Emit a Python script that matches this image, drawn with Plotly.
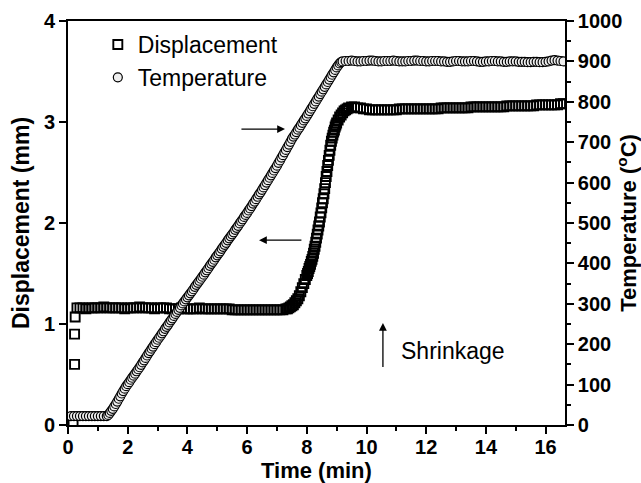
import plotly.graph_objects as go

# ---------------- Displacement (mm) ----------------
disp_t_start = [0.17, 0.22, 0.22, 0.24]
disp_start = [0.02, 0.60, 0.90, 1.07]

disp_t_base = [0.3, 0.4, 0.5, 0.6, 0.7, 0.8, 0.9, 1.0, 1.1, 1.2,
               1.3, 1.4, 1.5, 1.6, 1.7, 1.8, 1.9, 2.0, 2.1, 2.2,
               2.3, 2.4, 2.5, 2.6, 2.7, 2.8, 2.9, 3.0, 3.1, 3.2,
               3.3, 3.4, 3.5, 3.6, 3.7, 3.8, 3.9, 4.0, 4.1, 4.2,
               4.3, 4.4, 4.5, 4.6, 4.7, 4.8, 4.9, 5.0, 5.1, 5.2,
               5.3, 5.4, 5.5, 5.6, 5.7, 5.8, 5.9, 6.0, 6.1, 6.2,
               6.3, 6.4, 6.5, 6.6, 6.7, 6.8, 6.9, 7.0, 7.1, 7.2]
disp_base = [1.16, 1.16, 1.16, 1.15, 1.16, 1.16, 1.16, 1.16, 1.16, 1.17,
             1.16, 1.16, 1.16, 1.16, 1.16, 1.16, 1.15, 1.16, 1.16, 1.16,
             1.16, 1.17, 1.16, 1.16, 1.16, 1.16, 1.15, 1.16, 1.16, 1.16,
             1.16, 1.15, 1.15, 1.15, 1.15, 1.16, 1.15, 1.15, 1.15, 1.15,
             1.15, 1.16, 1.15, 1.15, 1.15, 1.15, 1.15, 1.15, 1.15, 1.15,
             1.15, 1.15, 1.14, 1.14, 1.14, 1.14, 1.14, 1.14, 1.14, 1.14,
             1.14, 1.14, 1.14, 1.14, 1.14, 1.14, 1.14, 1.14, 1.14, 1.14]

disp_t_rise = [7.3, 7.35, 7.4, 7.45, 7.5, 7.55, 7.6, 7.65, 7.7, 7.75,
               7.8, 7.85, 7.9, 7.95, 8.0,
               8.025, 8.05, 8.075, 8.1, 8.125, 8.15, 8.175, 8.2, 8.225, 8.25,
               8.275, 8.3, 8.325, 8.35, 8.375, 8.4, 8.425, 8.45, 8.475, 8.5,
               8.525, 8.55, 8.575, 8.6, 8.625, 8.65, 8.675, 8.7, 8.725, 8.75,
               8.775, 8.8, 8.825, 8.85, 8.875, 8.9, 8.925, 8.95, 8.975, 9.0,
               9.05, 9.1, 9.15, 9.2, 9.25, 9.3, 9.35, 9.4,
               9.5, 9.6, 9.7, 9.8, 9.9, 10.0]
disp_rise = [1.15, 1.15, 1.16, 1.17, 1.18, 1.19, 1.21, 1.23, 1.25, 1.28,
             1.32, 1.36, 1.40, 1.44, 1.48,
             1.50, 1.52, 1.55, 1.57, 1.59, 1.62, 1.64, 1.67, 1.70, 1.74,
             1.77, 1.81, 1.85, 1.89, 1.93, 1.97, 2.01, 2.06, 2.10, 2.15,
             2.20, 2.24, 2.29, 2.34, 2.40, 2.46, 2.51, 2.57, 2.62, 2.67,
             2.72, 2.77, 2.81, 2.84, 2.87, 2.90, 2.92, 2.95, 2.97, 2.99,
             3.02, 3.05, 3.07, 3.09, 3.11, 3.12, 3.13, 3.14,
             3.15, 3.15, 3.14, 3.14, 3.13, 3.13]

disp_t_end = [10.1, 10.2, 10.3, 10.4, 10.5, 10.6, 10.7, 10.8, 10.9, 11.0,
              11.1, 11.2, 11.3, 11.4, 11.5, 11.6, 11.7, 11.8, 11.9, 12.0,
              12.1, 12.2, 12.3, 12.4, 12.5, 12.6, 12.7, 12.8, 12.9, 13.0,
              13.1, 13.2, 13.3, 13.4, 13.5, 13.6, 13.7, 13.8, 13.9, 14.0,
              14.1, 14.2, 14.3, 14.4, 14.5, 14.6, 14.7, 14.8, 14.9, 15.0,
              15.1, 15.2, 15.3, 15.4, 15.5, 15.6, 15.7, 15.8, 15.9, 16.0,
              16.1, 16.2, 16.3, 16.4, 16.5, 16.6]
disp_end = [3.12, 3.12, 3.12, 3.12, 3.12, 3.12, 3.12, 3.12, 3.12, 3.12,
            3.13, 3.13, 3.13, 3.13, 3.13, 3.13, 3.13, 3.13, 3.13, 3.13,
            3.13, 3.13, 3.13, 3.13, 3.14, 3.14, 3.14, 3.14, 3.14, 3.14,
            3.14, 3.14, 3.14, 3.14, 3.15, 3.15, 3.15, 3.15, 3.15, 3.15,
            3.15, 3.15, 3.15, 3.15, 3.15, 3.15, 3.16, 3.16, 3.16, 3.16,
            3.16, 3.16, 3.16, 3.16, 3.16, 3.16, 3.17, 3.17, 3.17, 3.17,
            3.17, 3.17, 3.17, 3.17, 3.18, 3.18]

# ---------------- Temperature (°C) ----------------
temp_t_hold = [0.1, 0.2, 0.3, 0.4, 0.5, 0.6, 0.7, 0.8, 0.9, 1.0, 1.1, 1.2, 1.3]
temp_hold = [22, 22, 22, 22, 22, 22, 22, 22, 22, 22, 22, 22, 22]

temp_t_ramp = [1.35, 1.40, 1.45, 1.50, 1.55, 1.60, 1.65, 1.70, 1.75, 1.80,
               1.85, 1.90, 1.95, 2.00, 2.05, 2.10, 2.15, 2.20, 2.25, 2.30,
               2.35, 2.40, 2.45, 2.50, 2.55, 2.60, 2.65, 2.70, 2.75, 2.80,
               2.85, 2.90, 2.95, 3.00, 3.05, 3.10, 3.15, 3.20, 3.25, 3.30,
               3.35, 3.40, 3.45, 3.50, 3.55, 3.60, 3.65, 3.70, 3.75, 3.80,
               3.85, 3.90, 3.95, 4.00, 4.05, 4.10, 4.15, 4.20, 4.25, 4.30,
               4.35, 4.40, 4.45, 4.50, 4.55, 4.60, 4.65, 4.70, 4.75, 4.80,
               4.85, 4.90, 4.95, 5.00, 5.05, 5.10, 5.15, 5.20, 5.25, 5.30,
               5.35, 5.40, 5.45, 5.50, 5.55, 5.60, 5.65, 5.70, 5.75, 5.80,
               5.85, 5.90, 5.95, 6.00, 6.05, 6.10, 6.15, 6.20, 6.25, 6.30,
               6.35, 6.40, 6.45, 6.50, 6.55, 6.60, 6.65, 6.70, 6.75, 6.80,
               6.85, 6.90, 6.95, 7.00, 7.05, 7.10, 7.15, 7.20, 7.25, 7.30,
               7.35, 7.40, 7.45, 7.50, 7.55, 7.60, 7.65, 7.70, 7.75, 7.80,
               7.85, 7.90, 7.95, 8.00, 8.05, 8.10, 8.15, 8.20, 8.25, 8.30,
               8.35, 8.40, 8.45, 8.50, 8.55, 8.60, 8.65, 8.70, 8.75, 8.80,
               8.85, 8.90, 8.95, 9.00, 9.05, 9.10, 9.15, 9.20]
temp_ramp = [25, 30, 35, 40, 46, 52, 58, 65, 71, 78,
             84, 90, 96, 101, 106, 112, 117, 122, 127, 133,
             138, 143, 149, 155, 160, 166, 172, 178, 183, 189,
             194, 200, 205, 211, 216, 221, 227, 232, 238, 243,
             248, 254, 259, 264, 270, 275, 280, 285, 290, 296,
             301, 306, 311, 316, 321, 326, 331, 336, 342, 347,
             352, 357, 362, 367, 372, 378, 383, 388, 394, 399,
             404, 409, 415, 420, 425, 430, 436, 441, 446, 451,
             457, 462, 467, 472, 477, 483, 488, 493, 499, 504,
             509, 515, 520, 525, 531, 536, 542, 548, 553, 559,
             565, 571, 576, 582, 588, 594, 600, 606, 612, 618,
             624, 630, 636, 642, 649, 655, 662, 668, 675, 681,
             688, 694, 701, 708, 714, 719, 725, 731, 736, 742,
             748, 754, 759, 765, 771, 777, 783, 789, 795, 801,
             807, 813, 819, 825, 831, 837, 843, 849, 855, 861,
             867, 873, 879, 885, 890, 895, 898, 900]

temp_t_dwell = [9.3, 9.4, 9.5, 9.6, 9.7, 9.8, 9.9, 10.0, 10.1, 10.2,
                10.3, 10.4, 10.5, 10.6, 10.7, 10.8, 10.9, 11.0, 11.1, 11.2,
                11.3, 11.4, 11.5, 11.6, 11.7, 11.8, 11.9, 12.0, 12.1, 12.2,
                12.3, 12.4, 12.5, 12.6, 12.7, 12.8, 12.9, 13.0, 13.1, 13.2,
                13.3, 13.4, 13.5, 13.6, 13.7, 13.8, 13.9, 14.0, 14.1, 14.2,
                14.3, 14.4, 14.5, 14.6, 14.7, 14.8, 14.9, 15.0, 15.1, 15.2,
                15.3, 15.4, 15.5, 15.6, 15.7, 15.8, 15.9, 16.0, 16.1, 16.2,
                16.3, 16.4, 16.5, 16.6]
temp_dwell = [901, 901, 902, 901, 900, 900, 901, 901, 902, 902,
              901, 900, 900, 901, 901, 901, 902, 901, 900, 900,
              900, 901, 901, 902, 902, 901, 901, 900, 900, 901,
              901, 901, 900, 900, 899, 899, 900, 901, 901, 900,
              900, 900, 901, 901, 900, 899, 899, 900, 900, 901,
              901, 900, 900, 899, 899, 900, 900, 900, 899, 899,
              899, 898, 898, 899, 899, 898, 898, 899, 900, 902,
              903, 902, 901, 900]

x_ticks = [0, 2, 4, 6, 8, 10, 12, 14, 16]
x_minor = [1, 3, 5, 7, 9, 11, 13, 15]
y_ticks = [0, 1, 2, 3, 4]
y2_ticks = [0, 100, 200, 300, 400, 500, 600, 700, 800, 900, 1000]
y2_minor = [50, 150, 250, 350, 450, 550, 650, 750, 850, 950]

disp_time = disp_t_start + disp_t_base + disp_t_rise + disp_t_end
disp_mm = disp_start + disp_base + disp_rise + disp_end
temp_time = temp_t_hold + temp_t_ramp + temp_t_dwell
temp_c = temp_hold + temp_ramp + temp_dwell

FONT = "Liberation Sans, Arial, sans-serif"

fig = go.Figure()
fig.add_trace(go.Scatter(
    x=disp_time, y=disp_mm, mode="markers", name="Displacement",
    marker=dict(symbol="square-open", size=9, color="black",
                line=dict(width=1.9, color="black")),
))
fig.add_trace(go.Scatter(
    x=temp_time, y=temp_c, mode="markers", name="Temperature", yaxis="y2",
    marker=dict(symbol="circle", size=9, color="#eeeeee",
                line=dict(width=1.2, color="black")),
))

axis_common = dict(
    showline=True, linecolor="black", linewidth=1.6,
    ticks="outside", ticklen=7, tickwidth=1.5, tickcolor="black",
    showgrid=False, zeroline=False, automargin=False,
    tickfont=dict(family=FONT, size=20, color="black", weight="bold"),
)

fig.update_layout(
    width=641, height=483,
    margin=dict(l=68, r=76, t=21, b=58),
    paper_bgcolor="white", plot_bgcolor="white",
    showlegend=True,
    legend=dict(x=0.06, y=0.995, xanchor="left", yanchor="top",
                bgcolor="rgba(0,0,0,0)", borderwidth=0,
                font=dict(family=FONT, size=23, color="black")),
    xaxis=dict(
        range=[0, 16.65], tickmode="array", tickvals=x_ticks,
        mirror=True, ticklabelstandoff=-4,
        minor=dict(tickvals=x_minor, ticks="outside",
                   ticklen=4, tickwidth=1.5, tickcolor="black"),
        **axis_common,
    ),
    yaxis=dict(
        range=[0, 4], tickmode="array", tickvals=y_ticks,
        title=dict(text="Displacement (mm)", standoff=8,
                   font=dict(family=FONT, size=23, color="black", weight="bold")),
        **axis_common,
    ),
    yaxis2=dict(
        range=[0, 1000], overlaying="y", side="right", anchor="x",
        tickmode="array", tickvals=y2_ticks,
        minor=dict(tickvals=y2_minor,
                   ticks="outside", ticklen=4, tickwidth=1.5, tickcolor="black"),
        title=dict(text="Temperature (<sup>o</sup>C)", standoff=6,
                   font=dict(family=FONT, size=22, color="black", weight="bold")),
        **axis_common,
    ),
)

# x-axis title placed just below the tick labels
fig.add_annotation(x=0.5, y=-0.113, xref="paper", yref="paper",
                   text="<b>Time (min)</b>", showarrow=False,
                   xanchor="center", yanchor="middle",
                   font=dict(family=FONT, size=22, color="black"))

arrow_style = dict(xref="x", yref="y", axref="x", ayref="y", text="",
                   showarrow=True, arrowhead=2, arrowsize=1.2, arrowwidth=1.3,
                   arrowcolor="black")
fig.add_annotation(x=7.27, y=2.93, ax=5.76, ay=2.93, **arrow_style)
fig.add_annotation(x=6.40, y=1.83, ax=7.87, ay=1.83, **arrow_style)
fig.add_annotation(x=10.55, y=1.01, ax=10.55, ay=0.56, **arrow_style)
fig.add_annotation(x=11.09, y=0.73, xref="x", yref="y", text="Shrinkage",
                   showarrow=False, xanchor="left", yanchor="middle",
                   font=dict(family=FONT, size=23, color="black"))

fig.write_html("out.html")
